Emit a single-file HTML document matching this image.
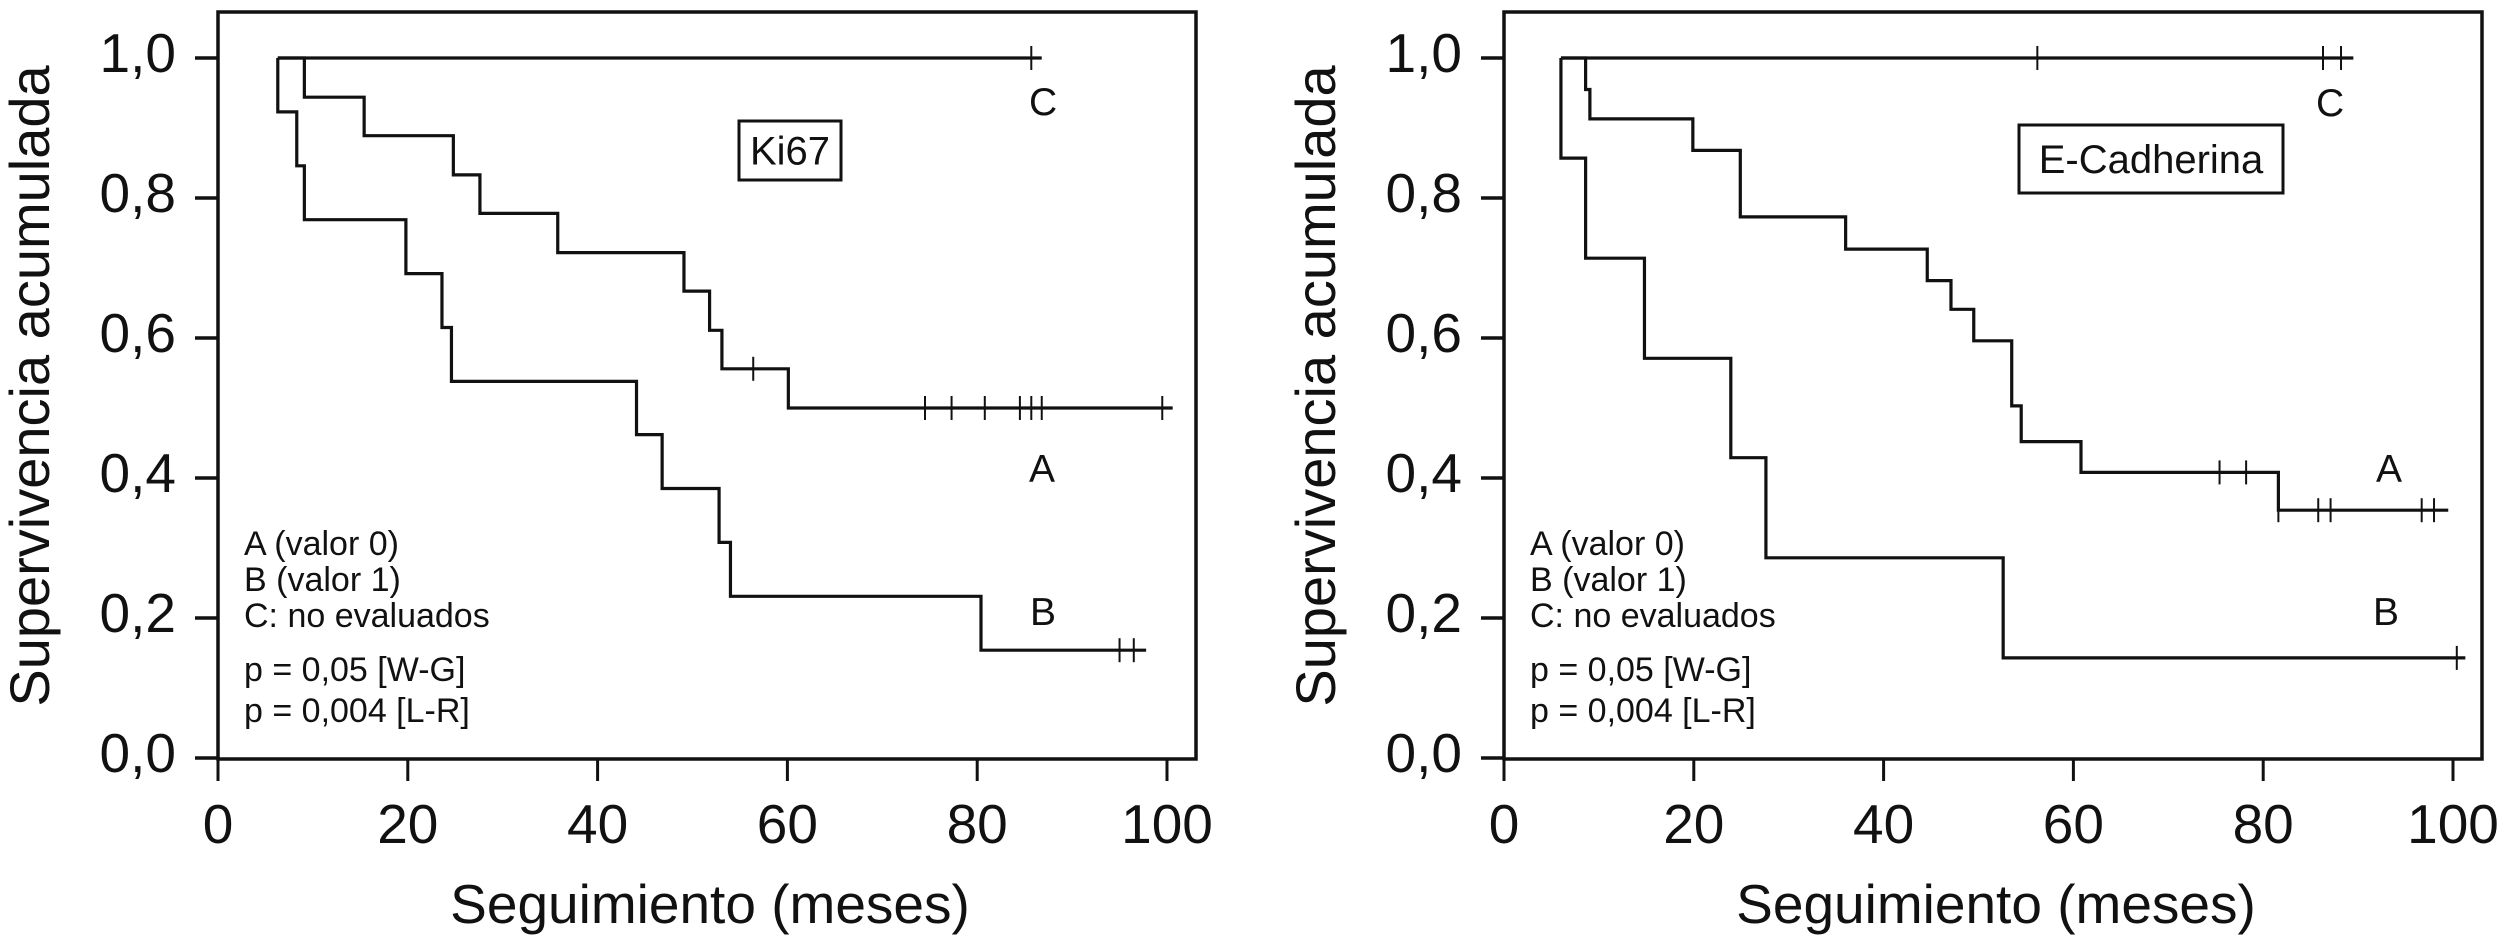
<!DOCTYPE html>
<html><head><meta charset="utf-8"><style>
html,body{margin:0;padding:0;background:#fff;}
svg{display:block;font-family:"Liberation Sans",Arial,sans-serif;}
</style></head><body>
<svg id="fig" width="2504" height="944" viewBox="0 0 2504 944" xmlns="http://www.w3.org/2000/svg"></svg>
<script>
// ---- Ki67 chart data ----
const xTicks = [0, 20, 40, 60, 80, 100];
const xTickLabels = ["0", "20", "40", "60", "80", "100"];
const yTicks = [0, 0.2, 0.4, 0.6, 0.8, 1.0];
const yTickLabels = ["0,0", "0,2", "0,4", "0,6", "0,8", "1,0"];

const kiA_times = [9.1, 15.4, 24.8, 27.6, 35.8, 49.1, 51.8, 53.1, 60.1];
const kiA_surv = [0.944, 0.889, 0.833, 0.778, 0.722, 0.667, 0.611, 0.556, 0.5];
const kiA_range = [6.3, 100.6];
const kiA_censors = [56.4, 74.5, 77.3, 80.8, 84.5, 85.7, 86.8, 99.5];

const kiB_times = [6.3, 8.3, 9.1, 19.8, 23.6, 24.6, 44.1, 46.8, 52.8, 54.0, 80.4];
const kiB_surv = [0.923, 0.846, 0.769, 0.692, 0.615, 0.538, 0.462, 0.385, 0.308, 0.231, 0.154];
const kiB_range = [6.3, 97.8];
const kiB_censors = [95.0, 96.5];

const kiC_times = [];
const kiC_surv = [];
const kiC_range = [6.3, 86.8];
const kiC_censors = [85.7];

// ---- E-Cadherina chart data ----
const ecA_times = [8.6, 9.05, 19.9, 24.9, 36.0, 44.6, 47.1, 49.5, 53.5, 54.5, 60.8, 81.6];
const ecA_surv = [0.955, 0.913, 0.868, 0.773, 0.727, 0.682, 0.641, 0.596, 0.503, 0.452, 0.408, 0.354];
const ecA_range = [6.0, 99.5];
const ecA_censors = [75.4, 78.2, 81.6, 85.8, 87.1, 96.7, 98.0];

const ecB_times = [6.0, 8.6, 14.8, 23.9, 27.6, 52.6];
const ecB_surv = [0.857, 0.714, 0.571, 0.429, 0.286, 0.143];
const ecB_range = [6.0, 101.3];
const ecB_censors = [100.4];

const ecC_times = [];
const ecC_surv = [];
const ecC_range = [6.0, 89.5];
const ecC_censors = [56.2, 86.3, 88.2];

const NS = "http://www.w3.org/2000/svg";
const svg = document.getElementById("fig");
function mk(tag, attrs, parent) {
  const e = document.createElementNS(NS, tag);
  for (const k in attrs) e.setAttribute(k, attrs[k]);
  (parent || svg).appendChild(e);
  return e;
}

function drawChart(off, prefix, title, boxRect, series, labels) {
  const g = mk("g", {});
  
  
  const x = v => off + 218 + 9.49 * v;
  const y = v => 58 + (1 - v) * 700;
  const fr = mk("rect", {x: off + 218, y: 12, width: 978, height: 747, fill: "none", stroke: "#111", "stroke-width": 3.5}, g);
  
  
  yTicks.forEach((t, i) => {
    const ln = mk("line", {x1: off + 195, x2: off + 218, y1: y(t), y2: y(t), stroke: "#111", "stroke-width": 3.5}, g);
    
    
    const tx = mk("text", {x: off + 176, y: y(t) + 14, "text-anchor": "end", "font-size": 55, fill: "#111"}, g);
    tx.textContent = yTickLabels[i];
    
    
  });
  xTicks.forEach((t, i) => {
    const ln = mk("line", {x1: x(t), x2: x(t), y1: 759, y2: 781, stroke: "#111", "stroke-width": 3}, g);
    
    
    const tx = mk("text", {x: x(t), y: 843, "text-anchor": "middle", "font-size": 55, fill: "#111"}, g);
    tx.textContent = xTickLabels[i];
    
    
  });
  const xt = mk("text", {x: off + 710, y: 923, "text-anchor": "middle", "font-size": 55, fill: "#111"}, g);
  xt.textContent = "Seguimiento (meses)";
  
  
  const yt = mk("text", {x: 0, y: 0, "text-anchor": "middle", "font-size": 56, fill: "#111", transform: `translate(${off + 49},386) rotate(-90)`}, g);
  yt.textContent = "Supervivencia acumulada";
  
  
  series.forEach(s => {
    let d = `M${x(s.range[0])},${y(1)}`;
    s.times.forEach((t, i) => { d += ` H${x(t)} V${y(s.surv[i])}`; });
    d += ` H${x(s.range[1])}`;
    const p = mk("path", {d: d, fill: "none", stroke: "#111", "stroke-width": 3.2, "stroke-linejoin": "miter"}, g);
    
    
    s.censors.forEach(c => {
      let v = 1;
      s.times.forEach((t, i) => { if (t <= c) v = s.surv[i]; });
      const cm = mk("line", {x1: x(c), x2: x(c), y1: y(v) - 12, y2: y(v) + 12, stroke: "#111", "stroke-width": 2}, g);
      
      
    });
  });
  labels.forEach(l => {
    const tx = mk("text", {x: off + l[1], y: l[2], "font-size": 39, fill: "#111"}, g);
    tx.textContent = l[0];
    
    
  });
  const br = mk("rect", {x: off + boxRect[0], y: boxRect[1], width: boxRect[2], height: boxRect[3], fill: "#fff", stroke: "#111", "stroke-width": 3}, g);
  
  
  const bt = mk("text", {x: off + boxRect[0] + boxRect[2] / 2, y: boxRect[1] + boxRect[3] / 2 + 14, "text-anchor": "middle", "font-size": 40, fill: "#111"}, g);
  bt.textContent = title;
  
  
  const leg = [["A (valor 0)", 555], ["B (valor 1)", 591], ["C: no evaluados", 627], ["p = 0,05 [W-G]", 681], ["p = 0,004 [L-R]", 722]];
  leg.forEach(l => {
    const tx = mk("text", {x: off + 244, y: l[1], "font-size": 34, fill: "#111"}, g);
    tx.textContent = l[0];
    
    
  });
}

drawChart(0, "ki67", "Ki67", [739, 121, 102, 59], [
  {name: "a", times: kiA_times, surv: kiA_surv, range: kiA_range, censors: kiA_censors},
  {name: "b", times: kiB_times, surv: kiB_surv, range: kiB_range, censors: kiB_censors},
  {name: "c", times: kiC_times, surv: kiC_surv, range: kiC_range, censors: kiC_censors}
], [["C", 1029, 115], ["A", 1029, 482], ["B", 1030, 625]]);

drawChart(1286, "ecadherina", "E-Cadherina", [733, 125, 264, 68], [
  {name: "a", times: ecA_times, surv: ecA_surv, range: ecA_range, censors: ecA_censors},
  {name: "b", times: ecB_times, surv: ecB_surv, range: ecB_range, censors: ecB_censors},
  {name: "c", times: ecC_times, surv: ecC_surv, range: ecC_range, censors: ecC_censors}
], [["C", 1030, 116], ["A", 1090, 482], ["B", 1087, 625]]);
</script>
</body></html>
